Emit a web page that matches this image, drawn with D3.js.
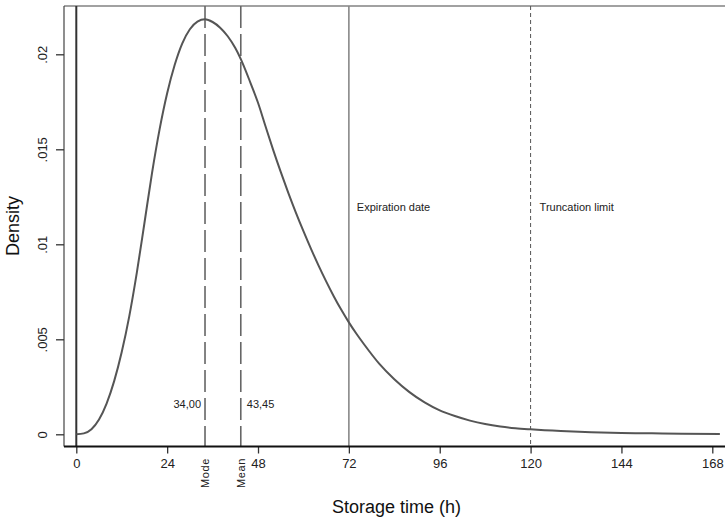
<!DOCTYPE html>
<html>
<head>
<meta charset="utf-8">
<script src="https://cdn.jsdelivr.net/npm/d3@7"></script>
<style>
  html, body { margin: 0; padding: 0; background: #fff; }
  svg { display: block; font-family: "Liberation Sans", Arial, sans-serif; }
</style>
</head>
<body>
<svg id="chart" width="725" height="521"></svg>
<script>
// Storage time (h) and estimated density of the fitted distribution
const hours = [0, 2, 4, 6, 8, 10, 12, 14, 16, 18, 20, 22, 24, 26, 28, 30, 32, 34, 36, 38,
  40, 42, 44, 46, 48, 50, 52, 54, 56, 58, 60, 62, 64, 66, 68, 70, 72, 74, 76, 80, 84, 88,
  92, 96, 100, 104, 108, 112, 116, 120, 128, 136, 144, 152, 160, 170];
const density = [0.00000, 0.00005, 0.00027, 0.00078, 0.00162, 0.00280, 0.00433, 0.00622,
  0.00852, 0.01112, 0.01375, 0.01605, 0.01795, 0.01945, 0.02058, 0.02132, 0.02172, 0.02184,
  0.02170, 0.02140, 0.02095, 0.02033, 0.01950, 0.01850, 0.01745, 0.01620, 0.01497, 0.01381,
  0.01271, 0.01167, 0.01069, 0.00976, 0.00888, 0.00805, 0.00727, 0.00655, 0.00589, 0.00529,
  0.00474, 0.00372, 0.00290, 0.00222, 0.00168, 0.00126, 0.00096, 0.00072, 0.00054, 0.00041,
  0.00032, 0.00026, 0.00017, 0.00011, 0.00007, 0.00005, 0.00003, 0.00002];

const xTicks = [0, 24, 48, 72, 96, 120, 144, 168];
const yTicks = [0, 0.005, 0.01, 0.015, 0.02];
const yTickLabels = ["0", ".005", ".01", ".015", ".02"];

// Reference markers
const modeValue = 34.00;
const meanValue = 43.45;
const expirationDate = 72;
const truncationLimit = 120;

const svg = d3.select("#chart");

const frame = { left: 64, top: 6, right: 725, bottom: 446.5 };

const x = d3.scaleLinear().domain([0, 168]).range([76.3, 712.3]);
const y = d3.scaleLinear().domain([0, 0.02]).range([434.3, 54.3]);

// Plot frame: left and top borders
svg.append("line")
  .attr("x1", frame.left).attr("x2", frame.left)
  .attr("y1", frame.top).attr("y2", frame.bottom)
  .attr("stroke", "#444").attr("stroke-width", 1.2);
svg.append("line")
  .attr("x1", frame.left).attr("x2", frame.right)
  .attr("y1", frame.top).attr("y2", frame.top)
  .attr("stroke", "#444").attr("stroke-width", 1.2);

// Vertical reference lines
const vline = (v, stroke, width, dash) => svg.append("line")
  .attr("x1", x(v)).attr("x2", x(v))
  .attr("y1", frame.top).attr("y2", frame.bottom)
  .attr("stroke", stroke).attr("stroke-width", width)
  .attr("stroke-dasharray", dash);

vline(0, "#333", 2, null);
vline(modeValue, "#666", 1.6, "22,6");
vline(meanValue, "#666", 1.6, "22,6");
vline(expirationDate, "#888", 1.6, null);
vline(truncationLimit, "#555", 1, "4,3");

// Density curve
const line = d3.line()
  .x((d, i) => x(hours[i]))
  .y(d => y(d))
  .curve(d3.curveMonotoneX);

svg.append("path")
  .datum(density)
  .attr("d", line)
  .attr("fill", "none")
  .attr("stroke", "#555")
  .attr("stroke-width", 2);

// X axis
const xAxis = svg.append("g")
  .attr("transform", `translate(0,${frame.bottom})`)
  .call(d3.axisBottom(x).tickValues(xTicks).tickSize(7).tickPadding(5).tickFormat(d3.format("d")));
xAxis.select(".domain").remove();
xAxis.selectAll(".tick line").attr("stroke", "#333").attr("stroke-width", 1.3);
xAxis.selectAll(".tick text").attr("fill", "#222").attr("font-size", 13)
  .attr("font-family", "Liberation Sans, Arial, sans-serif");

svg.append("line")
  .attr("x1", frame.left).attr("x2", frame.right)
  .attr("y1", frame.bottom).attr("y2", frame.bottom)
  .attr("stroke", "#111").attr("stroke-width", 2);

// Y axis with rotated labels
const yAxis = svg.append("g")
  .attr("transform", `translate(${frame.left},0)`)
  .call(d3.axisLeft(y).tickValues(yTicks).tickSize(8).tickFormat((d, i) => yTickLabels[i]));
yAxis.select(".domain").remove();
yAxis.selectAll(".tick line").attr("stroke", "#333").attr("stroke-width", 1.3);
yAxis.selectAll(".tick text")
  .attr("fill", "#222").attr("font-size", 13)
  .attr("font-family", "Liberation Sans, Arial, sans-serif")
  .attr("x", null).attr("dy", null)
  .attr("text-anchor", "middle")
  .attr("transform", "translate(-17,0) rotate(-90)");

// Mode / Mean markers below the axis
[["Mode", modeValue], ["Mean", meanValue]].forEach(([label, v]) => {
  svg.append("text")
    .attr("transform", `translate(${x(v) + 4},458) rotate(-90)`)
    .attr("text-anchor", "end")
    .attr("font-size", 11)
    .attr("letter-spacing", 0.6)
    .attr("fill", "#222")
    .text(label);
});

// Value annotations
svg.append("text")
  .attr("x", x(modeValue) - 4).attr("y", 408)
  .attr("text-anchor", "end").attr("font-size", 11).attr("fill", "#222")
  .text(d3.format(".2f")(modeValue).replace(".", ","));
svg.append("text")
  .attr("x", x(meanValue) + 6).attr("y", 408)
  .attr("text-anchor", "start").attr("font-size", 11).attr("fill", "#222")
  .text(d3.format(".2f")(meanValue).replace(".", ","));

svg.append("text")
  .attr("x", x(expirationDate) + 8).attr("y", 211)
  .attr("font-size", 11).attr("fill", "#222")
  .text("Expiration date");
svg.append("text")
  .attr("x", x(truncationLimit) + 9).attr("y", 211)
  .attr("font-size", 11).attr("fill", "#222")
  .text("Truncation limit");

// Axis titles
svg.append("text")
  .attr("x", 396.5).attr("y", 513)
  .attr("text-anchor", "middle").attr("font-size", 18).attr("fill", "#111")
  .text("Storage time (h)");
svg.append("text")
  .attr("transform", "translate(19,226) rotate(-90)")
  .attr("text-anchor", "middle").attr("font-size", 18).attr("fill", "#111")
  .text("Density");
</script>
</body>
</html>
